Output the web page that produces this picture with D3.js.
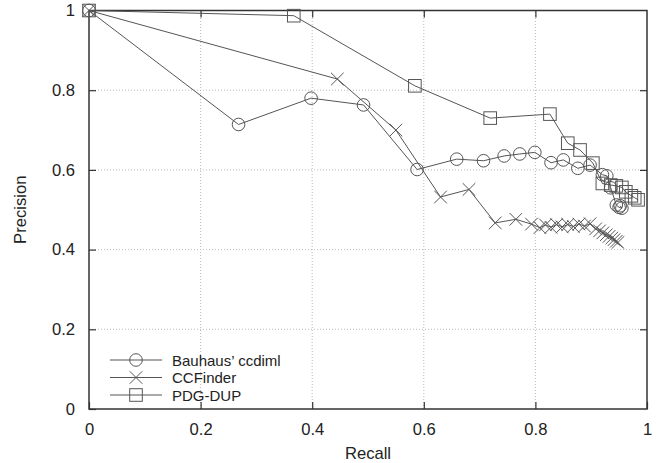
<!DOCTYPE html>
<html>
<head>
<meta charset="utf-8">
<script src="https://cdn.jsdelivr.net/npm/d3@7"></script>
<style>
  body { margin: 0; background: #fff; }
  svg text { font-family: "Liberation Sans", Arial, sans-serif; fill: #222; }
</style>
</head>
<body>
<div id="chart"></div>
<script>
// Recall / precision pairs
const bauhausRecall = [0, 0.268, 0.398, 0.492, 0.588, 0.659, 0.707, 0.744, 0.772, 0.799, 0.828, 0.850, 0.876, 0.898, 0.920, 0.928, 0.935, 0.945, 0.950, 0.955, 0.952];
const bauhausPrecision = [1, 0.714, 0.780, 0.763, 0.601, 0.627, 0.623, 0.635, 0.640, 0.644, 0.618, 0.625, 0.604, 0.612, 0.588, 0.585, 0.555, 0.512, 0.506, 0.504, 0.510];

const ccfinderRecall = [0, 0.445, 0.550, 0.630, 0.681, 0.728, 0.765, 0.793, 0.808, 0.818, 0.828, 0.838, 0.848, 0.858, 0.868, 0.878, 0.888, 0.898, 0.908, 0.915, 0.921, 0.927, 0.932, 0.937, 0.941, 0.945, 0.948];
const ccfinderPrecision = [1, 0.828, 0.700, 0.532, 0.551, 0.467, 0.476, 0.464, 0.455, 0.462, 0.456, 0.463, 0.457, 0.463, 0.458, 0.464, 0.459, 0.465, 0.452, 0.447, 0.442, 0.437, 0.433, 0.429, 0.425, 0.421, 0.418];

const pdgRecall = [0, 0.367, 0.584, 0.719, 0.826, 0.858, 0.880, 0.903, 0.920, 0.935, 0.945, 0.955, 0.962, 0.972, 0.978, 0.984];
const pdgPrecision = [1, 0.987, 0.811, 0.730, 0.740, 0.667, 0.650, 0.617, 0.566, 0.562, 0.560, 0.556, 0.545, 0.535, 0.530, 0.525];

const seriesNames = ["Bauhaus\u2019 ccdiml", "CCFinder", "PDG-DUP"];
const seriesMarkers = ["circle", "cross", "square"];
const xTicks = [0, 0.2, 0.4, 0.6, 0.8, 1];
const yTicks = [0, 0.2, 0.4, 0.6, 0.8, 1];

const series = [
    { name: seriesNames[0], marker: seriesMarkers[0], pts: bauhausRecall.map((r, i) => [r, bauhausPrecision[i]]) },
    { name: seriesNames[1], marker: seriesMarkers[1], pts: ccfinderRecall.map((r, i) => [r, ccfinderPrecision[i]]) },
    { name: seriesNames[2], marker: seriesMarkers[2], pts: pdgRecall.map((r, i) => [r, pdgPrecision[i]]) }
];

const width = 657, height = 463;
const margin = { top: 10.5, right: 10, bottom: 54, left: 89 };
const fontSize = '16.6px';

const svg = d3.select('#chart').append('svg')
    .attr('width', width)
    .attr('height', height);

const x = d3.scaleLinear().domain([0, 1]).range([margin.left, width - margin.right]);
const y = d3.scaleLinear().domain([0, 1]).range([height - margin.bottom, margin.top]);

const fmt = d => d === 0 || d === 1 ? String(d) : d3.format('.1f')(d);

// grid (dotted)
svg.append('g').selectAll('line')
    .data(xTicks.slice(1, -1))
    .enter().append('line')
    .attr('x1', d => x(d)).attr('x2', d => x(d))
    .attr('y1', y(0)).attr('y2', y(1))
    .style('stroke', '#bbb').style('stroke-width', 1).style('stroke-dasharray', '1,2');
svg.append('g').selectAll('line')
    .data(yTicks.slice(1, -1))
    .enter().append('line')
    .attr('x1', x(0)).attr('x2', x(1))
    .attr('y1', d => y(d)).attr('y2', d => y(d))
    .style('stroke', '#bbb').style('stroke-width', 1).style('stroke-dasharray', '1,2');

// axes with inward ticks on all sides
const axStyle = g => {
    g.select('.domain').remove();
    g.selectAll('.tick line').style('stroke', '#333').style('stroke-width', 1.2);
    g.selectAll('text').style('font-size', fontSize).style('font-family', '"Liberation Sans", Arial, sans-serif').attr('fill', '#222');
};
svg.append('g').attr('transform', `translate(0,${y(0)})`)
    .call(d3.axisBottom(x).tickValues(xTicks).tickFormat(fmt).tickSizeInner(-7).tickPadding(14))
    .call(axStyle);
svg.append('g').attr('transform', `translate(${x(0)},0)`)
    .call(d3.axisLeft(y).tickValues(yTicks).tickFormat(fmt).tickSizeInner(-7).tickPadding(14))
    .call(axStyle);
svg.append('g').attr('transform', `translate(0,${y(1)})`)
    .call(d3.axisTop(x).tickValues(xTicks.slice(1, -1)).tickFormat('').tickSizeInner(-7))
    .call(axStyle);
svg.append('g').attr('transform', `translate(${x(1)},0)`)
    .call(d3.axisRight(y).tickValues(yTicks.slice(1, -1)).tickFormat('').tickSizeInner(-7))
    .call(axStyle);

// frame
svg.append('rect')
    .attr('x', x(0)).attr('y', y(1))
    .attr('width', x(1) - x(0)).attr('height', y(0) - y(1))
    .style('fill', 'none').style('stroke', '#333').style('stroke-width', 1.5);

// axis titles
svg.append('text')
    .attr('x', (x(0) + x(1)) / 2).attr('y', 459)
    .attr('text-anchor', 'middle')
    .style('font-size', fontSize)
    .text('Recall');
svg.append('text')
    .attr('transform', `translate(26,${(y(0) + y(1)) / 2}) rotate(-90)`)
    .attr('text-anchor', 'middle')
    .style('font-size', fontSize)
    .text('Precision');

function drawMarker(g, type, cx, cy) {
    const s = 6.3;
    if (type === 'circle') {
        g.append('circle').attr('cx', cx).attr('cy', cy).attr('r', s)
            .style('fill', 'none').style('stroke', '#555').style('stroke-width', 1);
    } else if (type === 'square') {
        g.append('rect').attr('x', cx - s).attr('y', cy - s).attr('width', 2 * s).attr('height', 2 * s)
            .style('fill', 'none').style('stroke', '#555').style('stroke-width', 1);
    } else {
        g.append('path')
            .attr('d', `M${cx - s},${cy - s}L${cx + s},${cy + s}M${cx - s},${cy + s}L${cx + s},${cy - s}`)
            .style('fill', 'none').style('stroke', '#555').style('stroke-width', 1);
    }
}

const line = d3.line().x(d => x(d[0])).y(d => y(d[1]));

series.forEach(s => {
    const g = svg.append('g');
    g.append('path')
        .attr('d', line(s.pts))
        .style('fill', 'none').style('stroke', '#555').style('stroke-width', 1);
    s.pts.forEach(p => drawMarker(g, s.marker, x(p[0]), y(p[1])));
});

// legend
const legend = svg.append('g');
series.forEach((s, i) => {
    const ly = 360 + i * 17.5;
    legend.append('line')
        .attr('x1', 110).attr('x2', 162).attr('y1', ly).attr('y2', ly)
        .style('stroke', '#555').style('stroke-width', 1);
    drawMarker(legend, s.marker, 136, ly);
    legend.append('text')
        .attr('x', 172).attr('y', ly + 5.5)
        .style('font-size', '15px')
        .text(s.name);
});
</script>
</body>
</html>
